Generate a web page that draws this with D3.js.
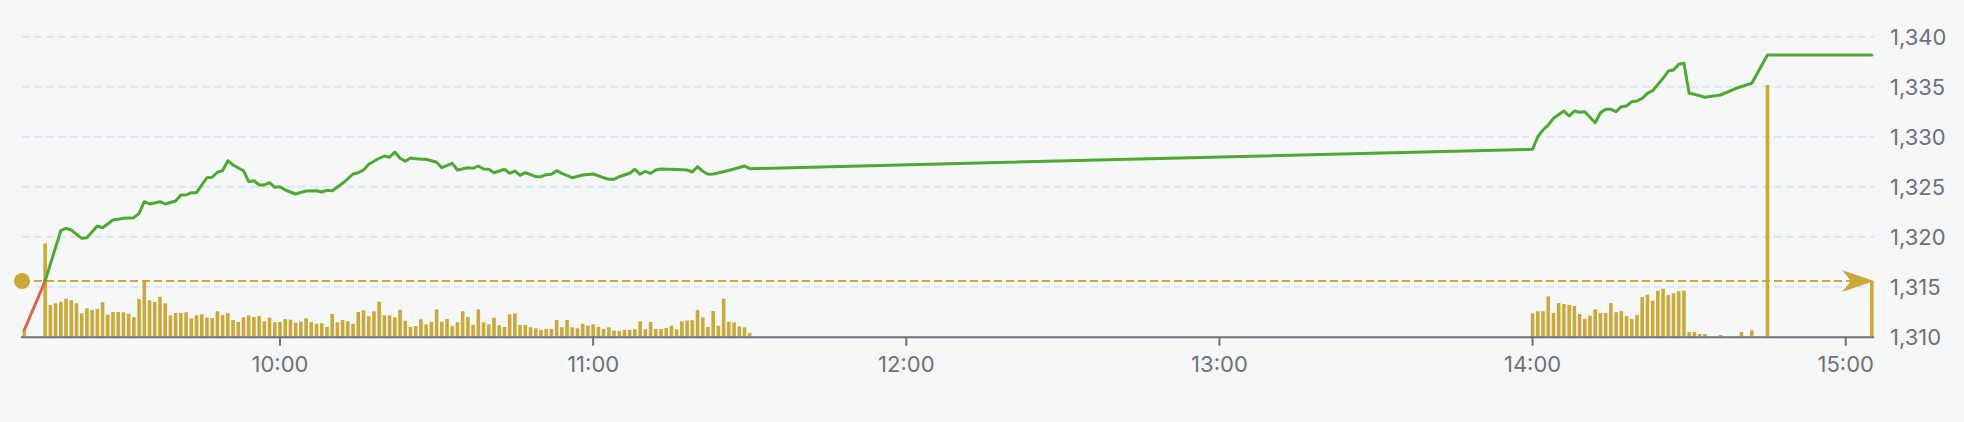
<!DOCTYPE html>
<html><head><meta charset="utf-8">
<script src="https://cdn.jsdelivr.net/npm/d3@7"></script>
<style>
html,body{margin:0;padding:0;background:#f6f7f9;}
svg{display:block;}
text{font-family:Inter,"Noto Sans",Arial,sans-serif;}
</style></head><body>
<svg id="chart" width="1964" height="422"></svg>
<script>
// ---------- data ----------
const priceTicks = [1310, 1315, 1320, 1325, 1330, 1335, 1340];
const timeTicks = ["10:00", "11:00", "12:00", "13:00", "14:00", "15:00"];
const referencePrice = 1315.57;
const timeDomain = ["09:10:34", "15:05:25"];

const priceTimes = [
  "09:11","09:15","09:18","09:19","09:20","09:22","09:23","09:25","09:26","09:28",
  "09:29","09:30","09:32","09:33","09:34","09:35","09:37","09:38","09:40","09:41",
  "09:42","09:43","09:44","09:46","09:47","09:48","09:49","09:50","09:51","09:53",
  "09:54","09:55","09:56","09:57","09:58","09:59","10:00","10:01","10:03","10:05",
  "10:07","10:08","10:09","10:10","10:12","10:14","10:15","10:16","10:17","10:19",
  "10:20","10:21","10:22","10:23","10:24","10:25","10:26","10:27","10:28","10:30",
  "10:31","10:33","10:34","10:36","10:37","10:38","10:39","10:40","10:41","10:43",
  "10:44","10:45","10:46","10:47","10:49","10:50","10:51","10:52","10:53","10:54",
  "10:56","10:58","11:00","11:02","11:03","11:04","11:05","11:07","11:08","11:09",
  "11:10","11:11","11:12","11:13","11:15","11:17","11:18","11:19","11:20","11:21",
  "11:22","11:23","11:25","11:27","11:29","11:30",
  "14:00","14:01","14:02","14:03","14:04","14:06","14:07","14:08","14:09","14:10",
  "14:12","14:13","14:14","14:15","14:16","14:17","14:18","14:19","14:20","14:21",
  "14:22","14:23","14:25","14:26","14:27","14:28","14:29","14:30","14:31","14:33",
  "14:36","14:39","14:42","14:45","15:05"
];
const prices = [
  1310.67,1315.57,1320.60,1320.84,1320.67,1319.84,1319.90,1321.07,1320.90,1321.67,
  1321.74,1321.84,1321.90,1322.34,1323.50,1323.27,1323.50,1323.27,1323.57,1324.17,
  1324.17,1324.40,1324.40,1325.90,1325.94,1326.45,1326.60,1327.60,1327.17,1326.60,
  1325.50,1325.60,1325.17,1325.17,1325.40,1324.94,1325.00,1324.67,1324.27,1324.57,
  1324.60,1324.47,1324.64,1324.60,1325.34,1326.27,1326.40,1326.67,1327.24,1327.84,
  1328.07,1327.94,1328.47,1327.84,1327.54,1327.87,1327.80,1327.74,1327.74,1327.44,
  1326.90,1327.34,1326.67,1326.90,1326.84,1327.07,1326.77,1326.74,1326.40,1326.74,
  1326.34,1326.57,1326.14,1326.40,1326.00,1326.00,1326.20,1326.24,1326.60,1326.34,
  1325.90,1326.17,1326.27,1325.90,1325.74,1325.74,1326.00,1326.34,1326.74,1326.24,
  1326.54,1326.34,1326.67,1326.77,1326.74,1326.70,1326.67,1326.47,1327.00,1326.54,
  1326.24,1326.27,1326.50,1326.77,1327.07,1326.80,
  1328.74,1330.00,1330.67,1331.17,1331.84,1332.57,1332.07,1332.57,1332.44,1332.50,
  1331.40,1332.40,1332.74,1332.74,1332.50,1333.00,1333.07,1333.50,1333.57,1333.84,
  1334.34,1334.60,1335.84,1336.57,1336.67,1337.24,1337.34,1334.34,1334.24,1333.94,
  1334.17,1334.84,1335.34,1338.17,1338.17
];

const volumeTimes = [
  "09:11",
  "09:15","09:16","09:17","09:18","09:19","09:20","09:21","09:22","09:23","09:24","09:25","09:26","09:27","09:28","09:29",
  "09:30","09:31","09:32","09:33","09:34","09:35","09:36","09:37","09:38","09:39","09:40","09:41","09:42","09:43","09:44",
  "09:45","09:46","09:47","09:48","09:49","09:50","09:51","09:52","09:53","09:54","09:55","09:56","09:57","09:58","09:59",
  "10:00","10:01","10:02","10:03","10:04","10:05","10:06","10:07","10:08","10:09","10:10","10:11","10:12","10:13","10:14",
  "10:15","10:16","10:17","10:18","10:19","10:20","10:21","10:22","10:23","10:24","10:25","10:26","10:27","10:28","10:29",
  "10:30","10:31","10:32","10:33","10:34","10:35","10:36","10:37","10:38","10:39","10:40","10:41","10:42","10:43","10:44",
  "10:45","10:46","10:47","10:48","10:49","10:50","10:51","10:52","10:53","10:54","10:55","10:56","10:57","10:58","10:59",
  "11:00","11:01","11:02","11:03","11:04","11:05","11:06","11:07","11:08","11:09","11:10","11:11","11:12","11:13","11:14",
  "11:15","11:16","11:17","11:18","11:19","11:20","11:21","11:22","11:23","11:24","11:25","11:26","11:27","11:28","11:29",
  "11:30",
  "14:00","14:01","14:02","14:03","14:04","14:05","14:06","14:07","14:08","14:09","14:10","14:11","14:12","14:13","14:14",
  "14:15","14:16","14:17","14:18","14:19","14:20","14:21","14:22","14:23","14:24","14:25","14:26","14:27","14:28","14:29",
  "14:30","14:31","14:32","14:33","14:36","14:40","14:42","14:45","15:05"
];
const volumeValues = [
  57,
  934,317,334,350,380,364,334,234,284,267,277,344,220,247,247,
  244,230,194,377,560,364,347,400,334,214,237,237,244,184,214,
  224,190,187,254,217,237,167,147,194,214,197,207,154,190,144,
  147,177,170,140,150,184,144,130,134,97,227,144,167,154,130,
  247,264,204,254,350,214,214,194,270,160,97,107,174,124,147,
  274,150,177,107,144,254,197,117,274,144,124,190,114,97,224,
  234,117,117,94,84,67,77,77,167,94,167,94,84,130,110,
  124,97,77,94,60,57,67,70,77,154,74,147,77,77,87,
  110,74,154,160,164,267,194,97,257,110,380,150,144,104,94,
  37,
  234,254,254,404,237,337,327,317,307,227,177,210,274,237,237,
  337,244,257,207,177,217,397,420,360,460,480,417,434,454,460,
  47,47,27,27,17,47,64,2517,557
];
const volumeMax = 3000;

// ---------- drawing ----------
const W = 1964, H = 422;
const plotLeft = 22, plotRight = 1874, plotTop = 36.7, plotBottom = 336.7;
const baseDay = "2024-01-02 ";
const parseFull = d3.timeParse("%Y-%m-%d %H:%M:%S");
const toTime = s => parseFull(baseDay + (s.length === 5 ? s + ":00" : s));

const x = d3.scaleTime().domain(timeDomain.map(toTime)).range([plotLeft, plotRight]);
const y = d3.scaleLinear().domain([priceTicks[0], priceTicks[priceTicks.length - 1]]).range([plotBottom, plotTop]);
const vy = d3.scaleLinear().domain([0, volumeMax]).range([plotBottom, plotTop]);

const GOLD = "#c9a93a", GREEN = "#4ea933", RED = "#e2604a", AXIS = "#6e7079", GRID = "#e0e6f1";

const svg = d3.select("#chart");
svg.append("rect").attr("width", W).attr("height", H).attr("fill", "#f6f7f9");

const defs = svg.append("defs");
const yRef = y(referencePrice);
defs.append("clipPath").attr("id", "above").append("rect")
  .attr("x", 0).attr("y", 0).attr("width", W).attr("height", yRef);
defs.append("clipPath").attr("id", "below").append("rect")
  .attr("x", 0).attr("y", yRef).attr("width", W).attr("height", H - yRef);
defs.append("clipPath").attr("id", "plot").append("rect")
  .attr("x", plotLeft).attr("y", 0).attr("width", plotRight - plotLeft).attr("height", H);

// grid lines
svg.append("g").selectAll("line").data(priceTicks.slice(1)).join("line")
  .attr("x1", plotLeft).attr("x2", plotRight)
  .attr("y1", d => y(d)).attr("y2", d => y(d))
  .attr("stroke", GRID).attr("stroke-width", 2).attr("stroke-dasharray", "8,4");

// volume bars
const vol = volumeTimes.map((t, i) => ({t: toTime(t), v: volumeValues[i]}));
const bw = 3.6;
svg.append("g").attr("clip-path", "url(#plot)").selectAll("rect").data(vol).join("rect")
  .attr("x", d => x(d.t) - bw / 2).attr("width", bw)
  .attr("y", d => vy(d.v)).attr("height", d => plotBottom - vy(d.v))
  .attr("fill", GOLD);

// reference line (dashed)
svg.append("line")
  .attr("x1", plotLeft).attr("x2", plotRight - 4)
  .attr("y1", yRef).attr("y2", yRef)
  .attr("stroke", GOLD).attr("stroke-width", 2).attr("stroke-dasharray", "8,4");

// price line, split at reference price
const series = priceTimes.map((t, i) => ({t: toTime(t), p: prices[i]}));
const line = d3.line().x(d => x(d.t)).y(d => y(d.p));
svg.append("path").datum(series).attr("d", line).attr("clip-path", "url(#above)")
  .attr("fill", "none").attr("stroke", GREEN).attr("stroke-width", 3)
  .attr("stroke-linejoin", "round").attr("stroke-linecap", "round");
svg.append("path").datum(series).attr("d", line).attr("clip-path", "url(#below)")
  .attr("fill", "none").attr("stroke", RED).attr("stroke-width", 3)
  .attr("stroke-linejoin", "round").attr("stroke-linecap", "round");

// start dot and end arrow of reference line
svg.append("circle").attr("cx", plotLeft).attr("cy", yRef).attr("r", 8).attr("fill", GOLD);
const tipX = plotRight, aL = 32, aW = 22;
svg.append("path")
  .attr("d", `M${tipX},${yRef} L${tipX - aL},${yRef - aW / 2} L${tipX - aL * 0.72},${yRef} L${tipX - aL},${yRef + aW / 2} Z`)
  .attr("fill", GOLD);

// x axis
svg.append("line").attr("x1", plotLeft - 1).attr("x2", plotRight).attr("y1", plotBottom + 0.5).attr("y2", plotBottom + 0.5)
  .attr("stroke", AXIS).attr("stroke-width", 2);
const tickG = svg.append("g").selectAll("g").data(timeTicks).join("g")
  .attr("transform", d => `translate(${x(toTime(d))},0)`);
tickG.append("line").attr("y1", plotBottom).attr("y2", plotBottom + 9)
  .attr("stroke", AXIS).attr("stroke-width", 2);
tickG.append("text").attr("y", 371.7).attr("text-anchor", "middle")
  .attr("fill", AXIS).attr("font-size", 22).text(d => d);

// y axis labels (right side)
const fmt = d3.format(",");
svg.append("g").selectAll("text").data(priceTicks).join("text")
  .attr("x", 1890).attr("y", d => y(d)).attr("dy", "0.36em")
  .attr("fill", AXIS).attr("font-size", 22).text(d => fmt(d));
</script>
</body></html>
